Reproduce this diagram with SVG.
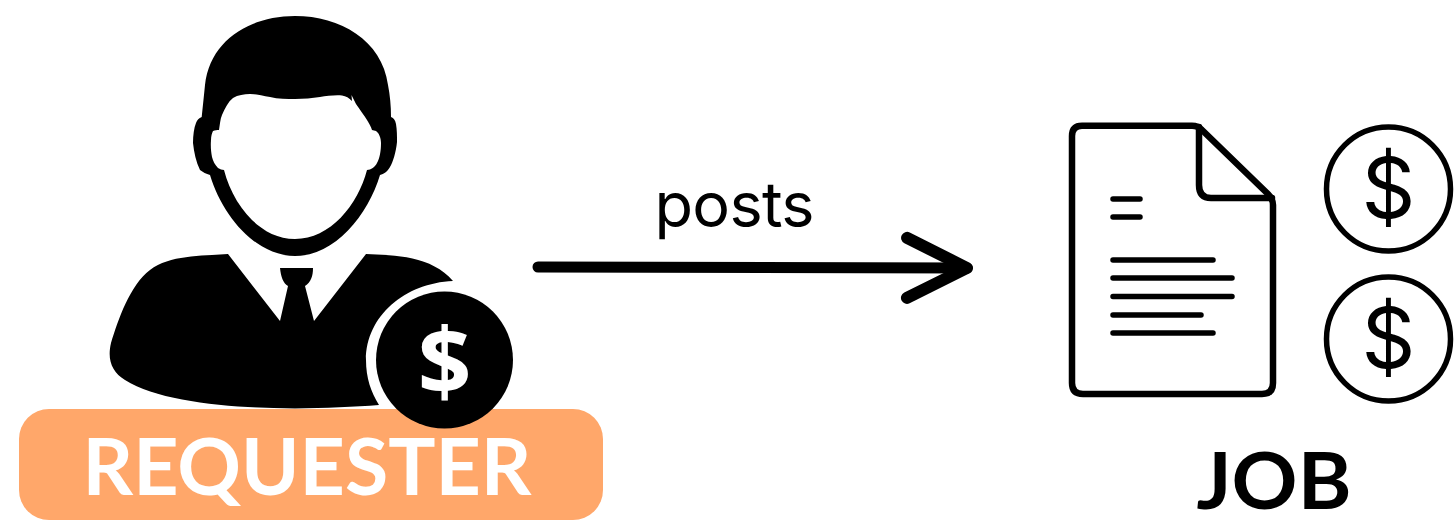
<svg xmlns="http://www.w3.org/2000/svg" width="1454" height="520" viewBox="0 0 1454 520">
<style>
.ln{fill:none;stroke:#000;stroke-linecap:round;stroke-linejoin:round}
.coin{fill:#fff;stroke:#000;stroke-width:5.500}
.usd{font-family:Inter,"Liberation Sans",sans-serif;font-size:84px;font-weight:400;text-anchor:middle;fill:#000}
</style>
<defs>
<marker id="head" markerUnits="userSpaceOnUse" viewBox="0 0 80 80" refX="70" refY="40" markerWidth="80" markerHeight="80" orient="auto"><path d="M10 10L70 40L10 70" fill="none" stroke="#000" stroke-width="12" stroke-linecap="round" stroke-linejoin="round"/></marker>
<filter id="soft" filterUnits="userSpaceOnUse" x="0" y="0" width="1454" height="520"><feGaussianBlur stdDeviation="0.5"/></filter>
</defs>
<rect width="1454" height="520" fill="#fff"/>
<g id="requester" filter="url(#soft)">
<path d="M201.700 117C203 105 204 95 205 85C210 40 250 16 295 16C340 16 382 40 388 85C390 95 391 106 391 117C394 118 395 120 396 124C397 130 397 136 397 142C396 152 393 162 390 167C387 172 384 174 380 175C368 215 335 256 295 256C255 256 222 215 210 175C206 174 203 172 200 170C196 162 194 152 193 143C193 135 194 128 196 123C197 120 199 118 201.700 117Z" fill="#000"/>
<path d="M219 130C220 124 220 120 222 115C225 108 228 102 233 98C238 95 244 94 250 94C257 94 263 96 270 97C278 99 287 99 295 99C304 99 312 98 320 97C327 96 334 95 342 95.500C346 96 349 98 352 101L351.500 95L356 104C360 110 364 115 367 120C369 123 371 127 372 130L376 131C379 133 381 138 381 143C381 150 380 158 377 163C375 167 371 170 367 170C358 205 330 239 295 239C260 239 233 205 224 170C222 170 220 169 218 168C215 165 213 161 212 157C211 152 210.500 146 211 140C211 136 212 133 213 131C215 130 217 130 219 130Z" fill="#fff"/>
<path d="M228 254L280 321L288 286C283 283 281 277 280 268H313C313 276 311 282 305 286L314 321L366 254C395 255 432 256 453 281C405 283 366 316 366 360C366 378 371 392 379 405C355 407 325 408 295 408.500C230 408 160 402 125 380C112 372 107 360 111 343C118 320 130 285 150 270C170 255 200 256 228 254Z" fill="#000"/>
<rect x="19" y="409" width="584" height="111" rx="30" fill="#FFA76B"/>
<circle cx="444.500" cy="360" r="68.500" fill="#000"/>
<text x="444.500" y="395" font-family="'Open Sans','Liberation Sans',sans-serif" font-size="94" font-weight="700" fill="#fff" text-anchor="middle">$</text>
<text x="307" y="495" font-family="Lato,'Liberation Sans',sans-serif" font-size="78" font-weight="700" fill="#fff" text-anchor="middle" textLength="449" lengthAdjust="spacingAndGlyphs">REQUESTER</text>
</g>
<g id="connectors" filter="url(#soft)">
<path class="ln" d="M538 267L967 268" stroke-width="11" marker-end="url(#head)"/>
</g>
<g id="posts-label" filter="url(#soft)">
<text x="734.500" y="227" font-family="Inter,'Liberation Sans',sans-serif" font-size="63" font-weight="400" text-anchor="middle" textLength="160" fill="#000">posts</text>
</g>
<g id="job" filter="url(#soft)">
<path class="ln" stroke-width="6.500" d="M1082 125.700H1192Q1198 125.700 1202 130L1268 194Q1273 199 1273 205V383Q1273 394 1262 394H1083Q1072 394 1072 383V136Q1072 125.700 1082 125.700Z"/>
<path class="ln" stroke-width="6.500" d="M1199 127V185Q1199 198 1211 198H1272"/>
<path class="ln" stroke-width="5.500" d="M1113 199H1140M1113 217H1140M1113 260H1213M1113 278H1232M1113 296.500H1232M1113 315H1201M1113 333H1213"/>
<circle class="coin" cx="1388.500" cy="189" r="62"/>
<text class="usd" x="1388.500" y="218">$</text>
<circle class="coin" cx="1388.500" cy="339" r="62"/>
<text class="usd" x="1388.500" y="368">$</text>
<text x="1274" y="509" font-family="Lato,'Liberation Sans',sans-serif" font-size="78" font-weight="700" text-anchor="middle" textLength="155" lengthAdjust="spacingAndGlyphs" fill="#000">JOB</text>
</g>
</svg>
